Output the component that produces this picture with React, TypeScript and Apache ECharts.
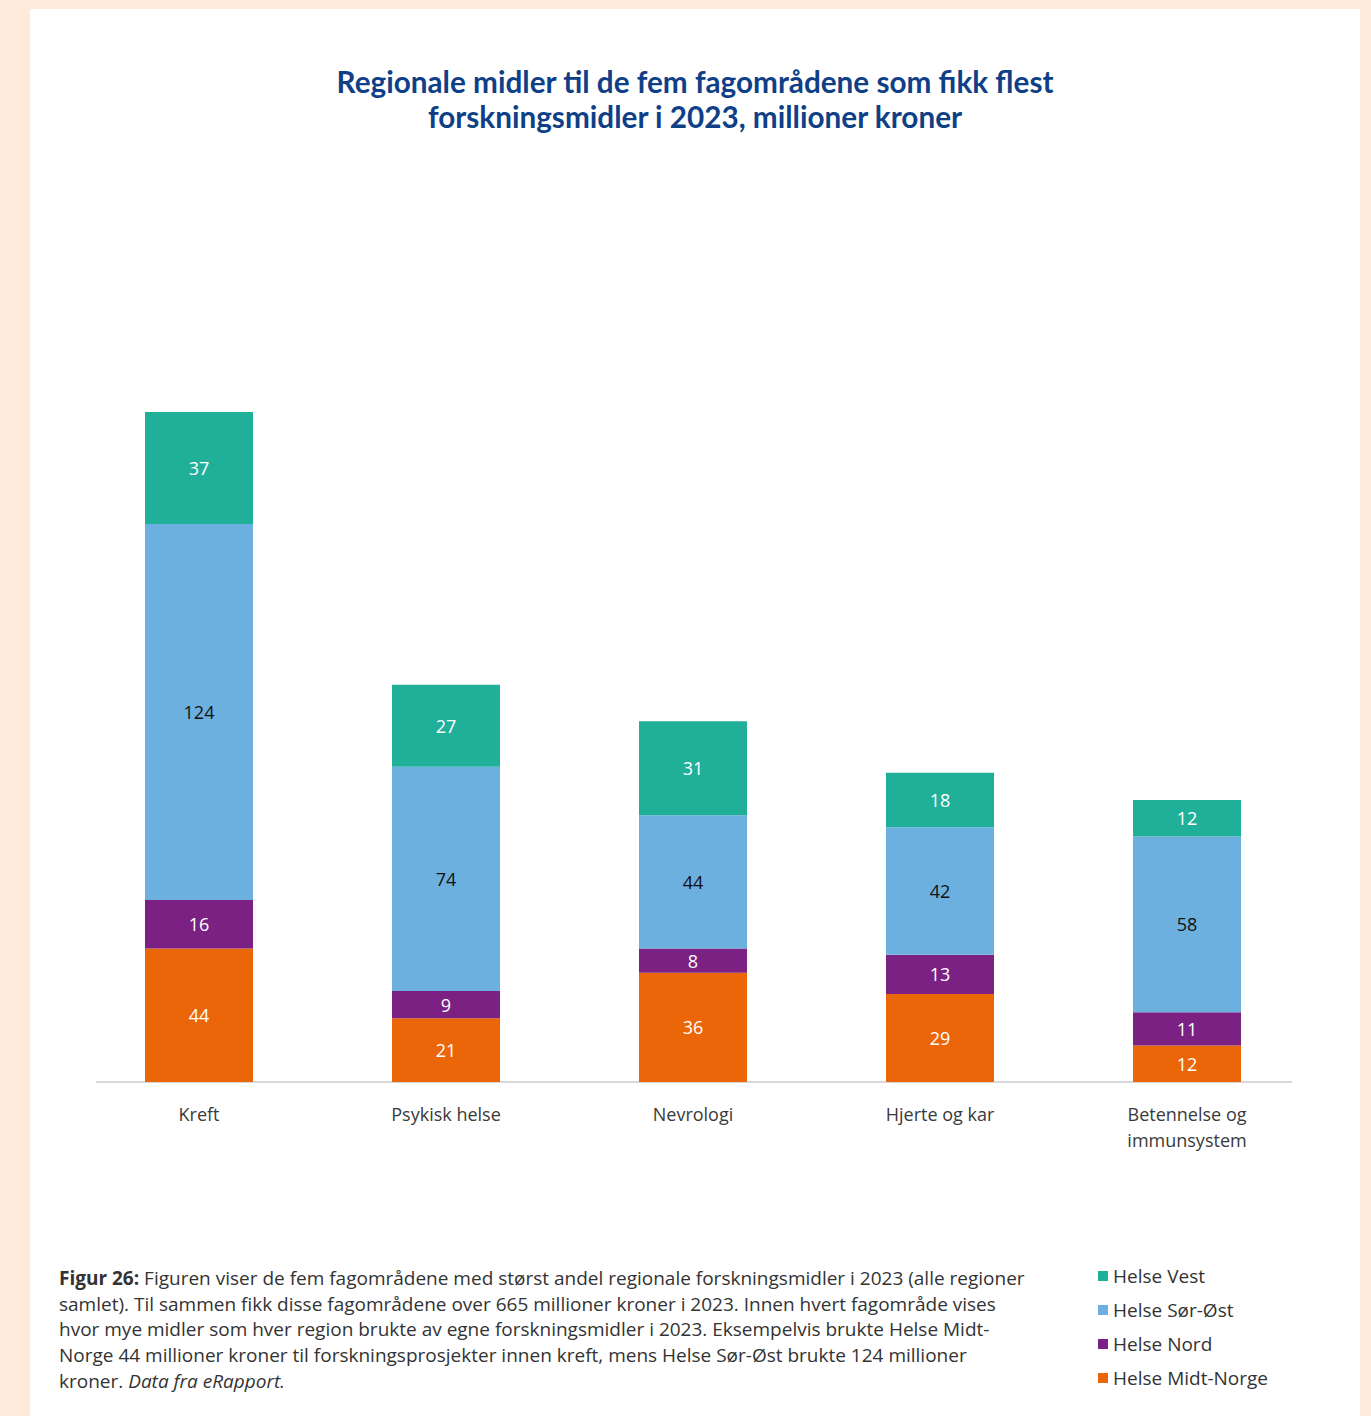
import React, { useEffect, useRef } from "react";
import * as echarts from "echarts";

const categories = ["Kreft", "Psykisk helse", "Nevrologi", "Hjerte og kar", "Betennelse og\nimmunsystem"];
const midtNorge = [44, 21, 36, 29, 12];
const nord = [16, 9, 8, 13, 11];
const sorOst = [124, 74, 44, 42, 58];
const vest = [37, 27, 31, 18, 12];
const legendOrder = ["Helse Vest", "Helse Sør-Øst", "Helse Nord", "Helse Midt-Norge"];

const titleText = "Regionale midler til de fem fagområdene som fikk flest\nforskningsmidler i 2023, millioner kroner";
const captionLines = [
  "{b|Figur 26:} Figuren viser de fem fagområdene med størst andel regionale forskningsmidler i 2023 (alle regioner",
  "samlet). Til sammen fikk disse fagområdene over 665 millioner kroner i 2023. Innen hvert fagområde vises",
  "hvor mye midler som hver region brukte av egne forskningsmidler i 2023. Eksempelvis brukte Helse Midt-",
  "Norge 44 millioner kroner til forskningsprosjekter innen kreft, mens Helse Sør-Øst brukte 124 millioner",
  "kroner. {i|Data fra eRapport.}",
];

const BODY_FONT = "'Open Sans', sans-serif";

export default function App() {
  const ref = useRef<HTMLDivElement>(null);
  useEffect(() => {
    document.body.style.margin = "0";
    const chart = echarts.init(ref.current!, null, { renderer: "svg" });
    const mk = (name: string, data: number[], color: string, labelColor: string) => ({
      name,
      type: "bar",
      stack: "total",
      data,
      barWidth: 108,
      itemStyle: { color },
      label: {
        show: true,
        position: "inside",
        color: labelColor,
        fontSize: 18,
        fontFamily: BODY_FONT,
      },
    });
    chart.setOption({
      animation: false,
      backgroundColor: "#fdeadb",
      legend: {
        data: legendOrder,
        orient: "vertical",
        left: 1093,
        top: 1261,
        icon: "rect",
        itemWidth: 10,
        itemHeight: 10,
        itemGap: 14,
        textStyle: { fontSize: 19, color: "#333", fontFamily: BODY_FONT, lineHeight: 20 },
      },
      grid: { left: 75.5, right: 60.5, top: 324, bottom: 1416 - 1082, containLabel: false },
      xAxis: {
        type: "category",
        data: categories,
        axisLine: { show: false },
        axisTick: { show: false },
        axisLabel: {
          fontSize: 18,
          color: "#3a3a3a",
          fontFamily: BODY_FONT,
          lineHeight: 26,
          margin: 19,
          interval: 0,
        },
      },
      yAxis: {
        type: "value",
        min: 0,
        max: 250,
        show: false,
        splitLine: { show: false },
      },
      graphic: [
        { type: "rect", z: -10, shape: { x: 30, y: 9, width: 1330, height: 1420 }, style: { fill: "#ffffff" } },
        { type: "line", z: -5, shape: { x1: 96, y1: 1082, x2: 1292, y2: 1082 }, style: { stroke: "#d9d9d9", lineWidth: 2 } },
        {
          type: "text",
          x: 695,
          y: 64,
          style: {
            text: titleText,
            align: "center",
            fill: "#0f3f86",
            font: "bold 29.7px Lato, sans-serif",
            lineHeight: 35,
          },
        },
        {
          type: "text",
          x: 59,
          y: 1265,
          style: {
            text: captionLines.join("\n"),
            fill: "#333",
            font: `19px ${BODY_FONT}`,
            lineHeight: 25.7,
            rich: {
              b: { fontWeight: "bold", fontSize: 19, fontFamily: BODY_FONT, fill: "#333", lineHeight: 25.7 },
              i: { fontStyle: "italic", fontSize: 19, fontFamily: BODY_FONT, fill: "#333", lineHeight: 25.7 },
            },
          },
        },
      ],
      series: [
        mk("Helse Midt-Norge", midtNorge, "#eb6608", "#ffffff"),
        mk("Helse Nord", nord, "#7b2183", "#ffffff"),
        mk("Helse Sør-Øst", sorOst, "#6cb0e0", "#111111"),
        mk("Helse Vest", vest, "#20b09a", "#ffffff"),
      ],
    });
    return () => chart.dispose();
  }, []);
  return <div ref={ref} style={{ width: 1371, height: 1416 }} />;
}
